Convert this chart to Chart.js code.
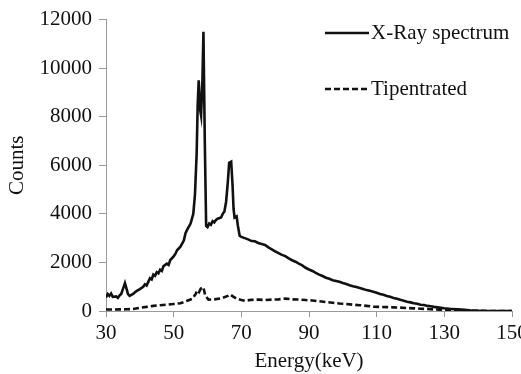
<!DOCTYPE html>
<html>
<head>
<meta charset="utf-8">
<script src="https://cdn.jsdelivr.net/npm/chart.js@4"></script>
<style>
  body { margin: 0; background: #fff; }
  canvas { display: block; }
</style>
</head>
<body>
<canvas id="spectrumChart" width="521" height="374"></canvas>
<script>
// ---------- DATA ----------
const seriesNames = ["X-Ray spectrum", "Tipentrated"];

const xrayEnergy = [30, 30.5, 31, 31.5, 32, 33, 33.5, 34, 34.5, 35, 35.6, 36, 36.5, 37, 38, 39, 40, 41, 41.5, 42, 42.5, 43, 43.5, 44, 44.5, 45, 45.5, 46, 46.5, 47, 48, 48.5, 49, 50, 50.5, 51, 52, 53, 53.5, 54, 55, 55.8, 56.3, 56.8, 57.1, 57.4, 57.8, 58.1, 58.5, 58.8, 59.2, 59.6, 60, 60.5, 61, 61.5, 62, 62.5, 63, 64, 64.5, 65, 65.5, 66, 66.4, 67, 67.4, 67.7, 68, 68.6, 69, 69.5, 70, 71, 72, 73, 74, 75, 76, 77, 78, 79, 80, 81, 82, 83, 84, 85, 86, 87, 88, 89, 90, 91, 92, 93, 94, 95, 96, 97, 98, 99, 100, 101, 102, 103, 104, 105, 106, 107, 108, 109, 110, 111, 112, 113, 114, 115, 116, 117, 118, 119, 120, 121, 122, 123, 124, 125, 126, 127, 128, 129, 130, 132, 134, 136, 138, 140, 143, 150];
const xrayCounts = [560, 700, 620, 720, 580, 600, 540, 640, 700, 900, 1150, 950, 700, 620, 700, 820, 900, 1000, 1100, 1050, 1200, 1350, 1300, 1500, 1450, 1600, 1550, 1700, 1650, 1850, 1950, 1900, 2100, 2250, 2350, 2500, 2650, 2900, 3200, 3350, 3600, 4000, 4800, 6500, 8500, 9500, 8300, 8050, 9500, 11500, 7000, 3500, 3450, 3600, 3550, 3700, 3650, 3750, 3800, 3850, 4000, 4100, 4500, 5300, 6100, 6150, 5200, 4200, 3850, 3900, 3500, 3100, 3050, 3000, 2950, 2880, 2870, 2800, 2760, 2720, 2620, 2540, 2460, 2380, 2310, 2260, 2170, 2090, 2030, 1950, 1880, 1780, 1710, 1650, 1570, 1500, 1440, 1370, 1330, 1270, 1240, 1200, 1150, 1110, 1060, 1020, 985, 950, 905, 860, 830, 790, 750, 700, 670, 620, 585, 540, 505, 460, 425, 380, 355, 320, 295, 260, 245, 210, 195, 170, 150, 130, 110, 85, 65, 45, 20, 10, 0, 0];

const tipEnergy = [30, 32, 34, 36, 38, 40, 42, 44, 46, 48, 50, 52, 54, 55.5, 56.5, 57, 57.5, 58, 58.8, 59.3, 60.3, 62, 64, 66, 66.7, 67.5, 68.5, 70, 71, 73, 75, 77, 79, 81, 83, 85, 87, 89, 91, 93, 95, 97, 99, 101, 103, 105, 107, 109, 111, 113, 115, 117, 119, 121, 123, 125, 127, 129, 131, 133, 136, 140, 143, 150];
const tipCounts = [60, 60, 65, 70, 80, 130, 170, 210, 240, 260, 290, 320, 420, 500, 700, 850, 780, 920, 980, 650, 470, 480, 520, 620, 680, 600, 510, 450, 420, 460, 470, 450, 470, 480, 510, 480, 470, 450, 430, 400, 370, 340, 310, 290, 260, 240, 210, 180, 170, 160, 150, 140, 120, 110, 95, 80, 65, 50, 40, 30, 20, 10, 0, 0];

const energyTicks = [30, 50, 70, 90, 110, 130, 150];
const countTicks = [0, 2000, 4000, 6000, 8000, 10000, 12000];

// ---------- STYLE ----------
const FONT = "'Liberation Serif', 'Times New Roman', serif";
const AXIS_GREY = "#9a9a9a";

function toPoints(xs, ys) {
    return xs.map((x, i) => ({ x: x, y: ys[i] }));
}

// Legend drawn inside the plot, top right, like the original
const insideLegend = {
    id: "insideLegend",
    afterDraw(chart) {
        const ctx = chart.ctx;
        const rows = [{ y: 33 }, { y: 89 }];
        ctx.save();
        ctx.font = "21px " + FONT;
        ctx.fillStyle = "#111";
        ctx.textBaseline = "middle";
        chart.data.datasets.forEach((ds, i) => {
            const y = rows[i].y;
            ctx.strokeStyle = ds.borderColor;
            ctx.lineWidth = ds.borderWidth;
            ctx.setLineDash(ds.borderDash || []);
            ctx.beginPath();
            ctx.moveTo(325, y);
            ctx.lineTo(369, y);
            ctx.stroke();
            ctx.fillText(ds.label, 371, y);
        });
        ctx.restore();
    }
};

const ctx = document.getElementById("spectrumChart").getContext("2d");

new Chart(ctx, {
    type: "line",
    data: {
        datasets: [
            {
                label: seriesNames[0],
                data: toPoints(xrayEnergy, xrayCounts),
                borderColor: "#111",
                borderWidth: 2.6,
                pointRadius: 0,
                tension: 0
            },
            {
                label: seriesNames[1],
                data: toPoints(tipEnergy, tipCounts),
                borderColor: "#111",
                borderWidth: 2.6,
                borderDash: [6, 3],
                pointRadius: 0,
                tension: 0
            }
        ]
    },
    options: {
        responsive: false,
        animation: false,
        layout: { padding: { top: 15, right: 9, left: 0, bottom: 0 } },
        plugins: {
            legend: { display: false },
            tooltip: { enabled: false }
        },
        scales: {
            x: {
                type: "linear",
                min: 30,
                max: 150,
                afterBuildTicks: axis => { axis.ticks = energyTicks.map(v => ({ value: v })); },
                afterFit: axis => { axis.height = 63; axis.paddingLeft = 0; axis.paddingRight = 0; },
                grid: { drawOnChartArea: false, drawTicks: true, tickLength: 6, color: AXIS_GREY },
                border: { color: AXIS_GREY, width: 1 },
                ticks: {
                    color: "#111",
                    padding: 4,
                    maxRotation: 0,
                    font: { family: FONT, size: 21 },
                    callback: v => String(v)
                },
                title: {
                    display: true,
                    text: "Energy(keV)",
                    color: "#111",
                    padding: { top: 0, bottom: 0 },
                    font: { family: FONT, size: 21 }
                }
            },
            y: {
                min: 0,
                max: 12000,
                afterBuildTicks: axis => { axis.ticks = countTicks.map(v => ({ value: v })); },
                afterFit: axis => { axis.width = 106; },
                grid: { drawOnChartArea: false, drawTicks: true, tickLength: 7, color: AXIS_GREY },
                border: { color: AXIS_GREY, width: 1 },
                ticks: {
                    color: "#111",
                    padding: 7,
                    font: { family: FONT, size: 21 },
                    callback: v => String(v)
                },
                title: {
                    display: true,
                    text: "Counts",
                    color: "#111",
                    padding: { top: 5, bottom: 0 },
                    font: { family: FONT, size: 21 }
                }
            }
        }
    },
    plugins: [insideLegend]
});
</script>
</body>
</html>
